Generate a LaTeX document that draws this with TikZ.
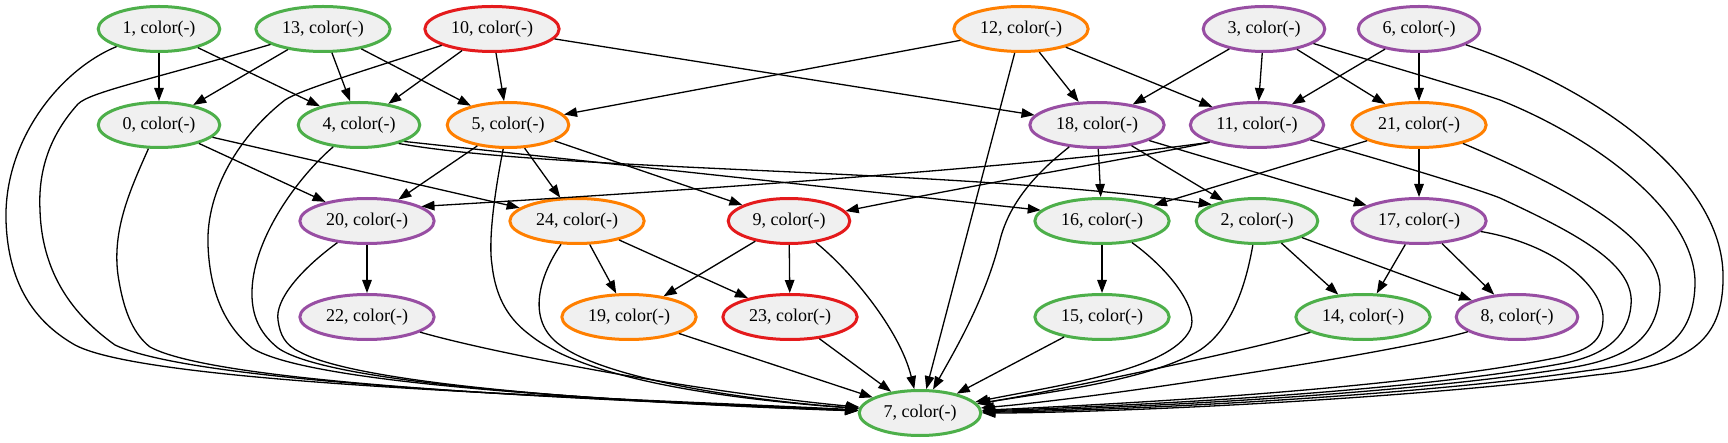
\documentclass[tikz,border=0pt]{standalone}
\usepackage{fontspec}
\setmainfont{Liberation Serif}
\usepackage{xcolor}
\usepackage{tikz}
\usetikzlibrary{shapes.geometric,arrows.meta}
\definecolor{setgreen}{RGB}{77,175,74}
\definecolor{setred}{RGB}{228,26,28}
\definecolor{setorange}{RGB}{255,127,0}
\definecolor{setpurple}{RGB}{152,78,163}
\definecolor{nodefill}{RGB}{240,240,240}

\begin{document}
\begin{tikzpicture}[x=1pt,y=-1pt,
  vertex/.style={ellipse,draw,line width=3pt,fill=nodefill,inner xsep=6.5pt,inner ysep=2pt,minimum height=45pt,font=\fontsize{18}{20}\selectfont},
  greennode/.style={vertex,draw=setgreen},
  rednode/.style={vertex,draw=setred},
  orangenode/.style={vertex,draw=setorange},
  purplenode/.style={vertex,draw=setpurple},
  link/.style={line width=1.3pt,-{Triangle[length=13pt,width=9.5pt]}}]
\useasboundingbox (0,0) rectangle (1728,443);
% Draw the top row
\node[greennode] (n1) at (159,29) {1, color(-)};
\node[greennode] (n13) at (323,29) {13, color(-)};
\node[rednode] (n10) at (492,29) {10, color(-)};
\node[orangenode] (n12) at (1021,29) {12, color(-)};
\node[purplenode] (n3) at (1264,29) {3, color(-)};
\node[purplenode] (n6) at (1419,29) {6, color(-)};
% Draw the second row
\node[greennode] (n0) at (159,125) {0, color(-)};
\node[greennode] (n4) at (359,125) {4, color(-)};
\node[orangenode] (n5) at (508,125) {5, color(-)};
\node[purplenode] (n18) at (1097,125) {18, color(-)};
\node[purplenode] (n11) at (1257,125) {11, color(-)};
\node[orangenode] (n21) at (1419,125) {21, color(-)};
% Draw the third row
\node[purplenode] (n20) at (367,221) {20, color(-)};
\node[orangenode] (n24) at (577,221) {24, color(-)};
\node[rednode] (n9) at (789,221) {9, color(-)};
\node[greennode] (n16) at (1102,221) {16, color(-)};
\node[greennode] (n2) at (1257,221) {2, color(-)};
\node[purplenode] (n17) at (1419,221) {17, color(-)};
% Draw the fourth row
\node[purplenode] (n22) at (367,317) {22, color(-)};
\node[orangenode] (n19) at (629,317) {19, color(-)};
\node[rednode] (n23) at (790,317) {23, color(-)};
\node[greennode] (n15) at (1102,317) {15, color(-)};
\node[greennode] (n14) at (1363,317) {14, color(-)};
\node[purplenode] (n8) at (1517,317) {8, color(-)};
% Draw the sink
\node[greennode] (n7) at (920,413) {7, color(-)};
% Edges between the upper rows
\draw[link] (n1) -- (n0);
\draw[link] (n1) -- (n4);
\draw[link] (n13) -- (n0);
\draw[link] (n13) -- (n4);
\draw[link] (n13) -- (n5);
\draw[link] (n10) -- (n4);
\draw[link] (n10) -- (n5);
\draw[link] (n10) -- (n18);
\draw[link] (n12) -- (n5);
\draw[link] (n12) -- (n18);
\draw[link] (n12) -- (n11);
\draw[link] (n3) -- (n18);
\draw[link] (n3) -- (n11);
\draw[link] (n3) -- (n21);
\draw[link] (n6) -- (n11);
\draw[link] (n6) -- (n21);
\draw[link] (n0) -- (n20);
\draw[link] (n0) -- (n24);
\draw[link] (n4.-20) -- (n16.170);
\draw[link] (n4.-25) .. controls (560,172) and (950,168) .. (n2.160);
\draw[link] (n5) -- (n20);
\draw[link] (n5) -- (n24);
\draw[link] (n5) -- (n9);
\draw[link] (n11.200) .. controls (1050,165) and (700,190) .. (n20.15);
\draw[link] (n11.200) .. controls (1150,155) and (1000,180) .. (n9.10);
\draw[link] (n18) -- (n16);
\draw[link] (n18) -- (n2);
\draw[link] (n18) -- (n17);
\draw[link] (n21) -- (n16);
\draw[link] (n21) -- (n17);
% Edges between the lower rows
\draw[link] (n20) -- (n22);
\draw[link] (n24) -- (n19);
\draw[link] (n24) -- (n23);
\draw[link] (n9) -- (n19);
\draw[link] (n9) -- (n23);
\draw[link] (n16) -- (n15);
\draw[link] (n2) -- (n14);
\draw[link] (n2) -- (n8);
\draw[link] (n17) -- (n14);
\draw[link] (n17) -- (n8);
% Edges into 7 from the left
\draw[link] (n1) .. controls (60,70) and (4,140) .. (6,220) .. controls (8,290) and (40,325) .. (75,345) .. controls (150,385) and (600,397) .. (n7);
\draw[link] (n13) .. controls (150,80) and (90,92) .. (78,104) .. controls (50,135) and (38,170) .. (40,210) .. controls (42,280) and (80,320) .. (115,345) .. controls (200,385) and (600,399) .. (n7);
\draw[link] (n0) .. controls (130,190) and (112,230) .. (118,275) .. controls (124,315) and (135,335) .. (150,347) .. controls (220,385) and (600,400) .. (n7);
\draw[link] (n10) .. controls (360,72) and (300,90) .. (285,100) .. controls (240,135) and (206,190) .. (208,245) .. controls (210,300) and (230,330) .. (252,348) .. controls (310,385) and (620,401) .. (n7);
\draw[link] (n4) .. controls (300,175) and (250,240) .. (252,297) .. controls (253,320) and (262,335) .. (278,348) .. controls (330,385) and (620,402) .. (n7);
\draw[link] (n20) .. controls (300,270) and (275,300) .. (278,320) .. controls (280,335) and (285,345) .. (300,352) .. controls (360,385) and (620,403) .. (n7);
\draw[link] (n5) .. controls (495,190) and (488,240) .. (492,265) .. controls (496,300) and (510,320) .. (530,335) .. controls (580,375) and (700,397) .. (n7);
\draw[link] (n24) .. controls (540,275) and (525,320) .. (560,345) .. controls (600,375) and (720,398) .. (n7);
\draw[link] (n22) .. controls (500,355) and (700,392) .. (n7);
\draw[link] (n19) -- (n7);
\draw[link] (n23) -- (n7);
% Edges into 7 from above and the right
\draw[link] (n12) -- (n7);
\draw[link] (n9) .. controls (850,270) and (900,330) .. (n7);
\draw[link] (n18) .. controls (1040,170) and (1010,200) .. (1000,240) .. controls (985,300) and (955,350) .. (n7);
\draw[link] (n16) .. controls (1170,270) and (1200,310) .. (1190,330) .. controls (1170,370) and (1060,385) .. (n7);
\draw[link] (n2) .. controls (1245,290) and (1230,330) .. (1200,350) .. controls (1150,380) and (1050,392) .. (n7);
\draw[link] (n15) -- (n7);
\draw[link] (n14) .. controls (1250,350) and (1050,392) .. (n7);
\draw[link] (n8) .. controls (1400,352) and (1100,398) .. (n7);
\draw[link] (n17) .. controls (1560,245) and (1605,290) .. (1603,320) .. controls (1602,340) and (1590,350) .. (1560,357) .. controls (1400,390) and (1100,405) .. (n7);
\draw[link] (n11) .. controls (1400,165) and (1480,190) .. (1500,198) .. controls (1580,235) and (1635,265) .. (1631,305) .. controls (1628,340) and (1600,356) .. (1565,363) .. controls (1400,394) and (1100,407) .. (n7);
\draw[link] (n21) .. controls (1550,180) and (1662,235) .. (1660,290) .. controls (1658,340) and (1625,358) .. (1575,367) .. controls (1400,396) and (1100,409) .. (n7);
\draw[link] (n3) .. controls (1420,75) and (1480,93) .. (1500,100) .. controls (1600,140) and (1697,215) .. (1695,285) .. controls (1693,345) and (1655,362) .. (1585,371) .. controls (1400,398) and (1100,411) .. (n7);
\draw[link] (n6) .. controls (1600,90) and (1722,180) .. (1723,275) .. controls (1724,345) and (1685,366) .. (1595,375) .. controls (1400,400) and (1100,413) .. (n7);
\end{tikzpicture}
\end{document}
